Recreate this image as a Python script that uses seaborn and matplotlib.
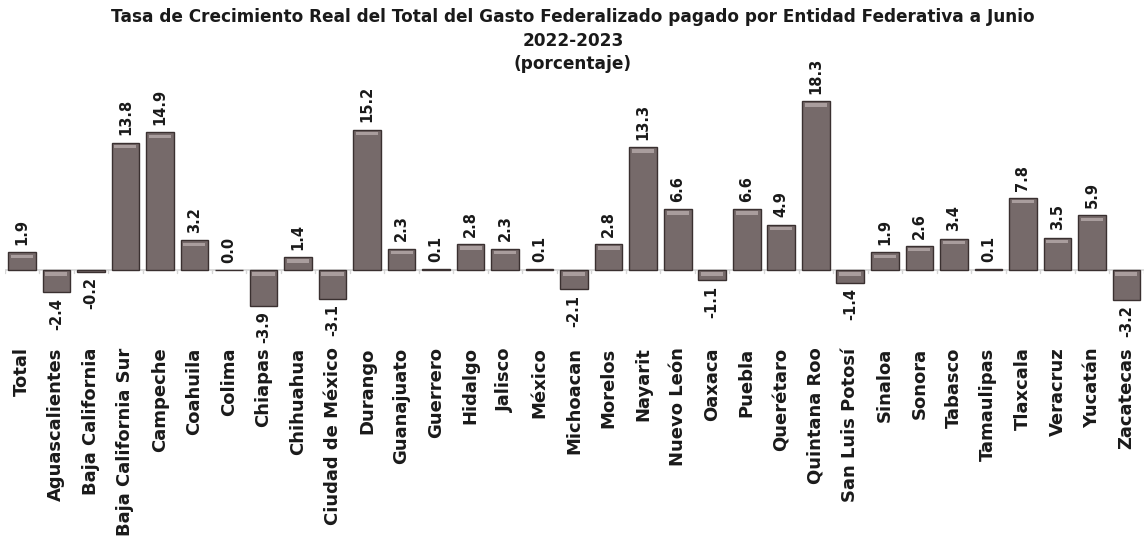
import matplotlib
matplotlib.use('Agg')
import matplotlib.pyplot as plt
import seaborn as sns
import pandas as pd
from matplotlib.patches import Rectangle

estados = ['Total', 'Aguascalientes', 'Baja California', 'Baja California Sur',
           'Campeche', 'Coahuila', 'Colima', 'Chiapas', 'Chihuahua',
           'Ciudad de México', 'Durango', 'Guanajuato', 'Guerrero', 'Hidalgo',
           'Jalisco', 'México', 'Michoacan', 'Morelos', 'Nayarit', 'Nuevo León',
           'Oaxaca', 'Puebla', 'Querétaro', 'Quintana Roo', 'San Luis Potosí',
           'Sinaloa', 'Sonora', 'Tabasco', 'Tamaulipas', 'Tlaxcala', 'Veracruz',
           'Yucatán', 'Zacatecas']
tasa = [1.9, -2.4, -0.2, 13.8, 14.9, 3.2, 0.0, -3.9, 1.4, -3.1, 15.2, 2.3,
        0.1, 2.8, 2.3, 0.1, -2.1, 2.8, 13.3, 6.6, -1.1, 6.6, 4.9, 18.3, -1.4,
        1.9, 2.6, 3.4, 0.1, 7.8, 3.5, 5.9, -3.2]

titulo = ['Tasa de Crecimiento Real del Total del Gasto Federalizado pagado por Entidad Federativa a Junio',
          '2022-2023',
          '(porcentaje)']

df = pd.DataFrame({'Entidad': estados, 'Tasa': tasa})

sns.set_theme(style='white')
plt.rcParams['font.family'] = ['DejaVu Sans']

fig = plt.figure(figsize=(11.46, 5.57), dpi=100)
ax = fig.add_axes([0.004, 0.3986, 0.994, 0.4309])

sns.barplot(data=df, x='Entidad', y='Tasa', color='#766a6a', saturation=1,
            width=0.8, edgecolor='#3a3030', linewidth=1.0, ax=ax)

# bevel highlight near the top of each bar
for p in ax.patches:
    h = p.get_height()
    if abs(h) < 0.3:
        continue
    x0 = p.get_x() + p.get_width() * 0.1
    w = p.get_width() * 0.8
    y_top = p.get_y() + h if h > 0 else p.get_y()
    hl = Rectangle((x0, y_top - 0.6), w, 0.35, facecolor='#a99d9d',
                   edgecolor='none', zorder=p.get_zorder() + 0.1)
    ax.add_patch(hl)

ax.set_ylim(-7.04, 18.95)
ax.set_xlim(-0.5, len(estados) - 0.5)
ax.axhline(0, color='#d6d6d6', lw=1.2, zorder=0)
for i in range(len(estados) + 1):
    ax.plot([i - 0.5, i - 0.5], [0, -0.35], color='#d6d6d6', lw=1, zorder=0)

for i, v in enumerate(tasa):
    if v >= 0:
        ax.text(i, v + 0.8, f'{v:.1f}', rotation=90, ha='center', va='bottom',
                fontsize=10.5, fontweight='bold', color='#1a1a1a')
    else:
        ax.text(i, v - 0.6, f'{v:.1f}', rotation=90, ha='center', va='top',
                fontsize=10.5, fontweight='bold', color='#1a1a1a')

ax.set_xlabel('')
ax.set_ylabel('')
ax.set_yticks([])
ax.tick_params(axis='x', length=0, pad=9)
ax.set_xticks(range(len(estados)))
ax.set_xticklabels(estados, rotation=90, fontsize=13, fontweight='bold',
                   color='#1a1a1a', va='top')
for s in ax.spines.values():
    s.set_visible(False)

for k, linea in enumerate(titulo):
    fig.text(0.5, 0.969 - k * 0.042, linea, ha='center', va='center',
             fontsize=12.2, fontweight='bold', color='#1a1a1a')

fig.savefig('out.png', dpi=100)
